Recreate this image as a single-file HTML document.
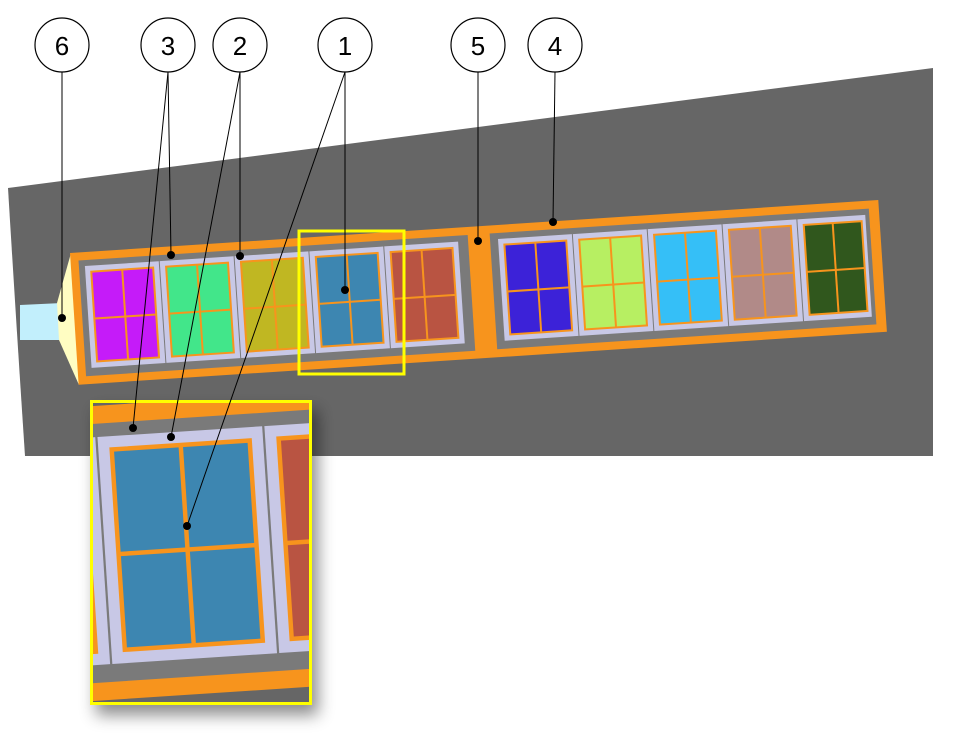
<!DOCTYPE html>
<html><head><meta charset="utf-8"><style>
html,body{margin:0;padding:0;background:#fff;}
svg{display:block;}
text{font-family:"Liberation Sans",sans-serif;}
</style></head><body>
<svg width="962" height="734" viewBox="0 0 962 734" xmlns="http://www.w3.org/2000/svg">
<defs>
<filter id="sh" x="-30%" y="-30%" width="160%" height="160%"><feDropShadow dx="6" dy="10" stdDeviation="8" flood-color="#000" flood-opacity="0.45"/></filter>
<g id="strip">
<polygon points="20,305 62,303 62,340 20,340" fill="#c2effc"/>
<polygon points="57,303 71,253 79,385 59,340" fill="#fffdc2"/>
<g transform="translate(70,253) rotate(-3.75)">
<rect x="0" y="0" width="810" height="132" fill="#f7941d"/>
<rect x="8" y="8" width="390" height="116" fill="#7a7a7a"/>
<rect x="420" y="8" width="380" height="116" fill="#7a7a7a"/>
<g stroke="#f7941d" stroke-width="2">
<g transform="translate(14,14)"><rect width="74" height="102" fill="#c8c8e6" stroke="none"/><rect x="6" y="6" width="62" height="90" fill="#c51bf9"/><line x1="37" y1="6" x2="37" y2="96"/><line x1="6" y1="53" x2="68" y2="53"/></g>
<g transform="translate(89,14)"><rect width="74" height="102" fill="#c8c8e6" stroke="none"/><rect x="6" y="6" width="62" height="90" fill="#42e68a"/><line x1="37" y1="6" x2="37" y2="96"/><line x1="6" y1="53" x2="68" y2="53"/></g>
<g transform="translate(164,14)"><rect width="74" height="102" fill="#c8c8e6" stroke="none"/><rect x="6" y="6" width="62" height="90" fill="#c0b722"/><line x1="37" y1="6" x2="37" y2="96"/><line x1="6" y1="53" x2="68" y2="53"/></g>
<g transform="translate(239,14)"><rect width="74" height="102" fill="#c8c8e6" stroke="none"/><rect x="6" y="6" width="62" height="90" fill="#3d86b1"/><line x1="37" y1="6" x2="37" y2="96"/><line x1="6" y1="53" x2="68" y2="53"/></g>
<g transform="translate(314,14)"><rect width="74" height="102" fill="#c8c8e6" stroke="none"/><rect x="6" y="6" width="62" height="90" fill="#b95442"/><line x1="37" y1="6" x2="37" y2="96"/><line x1="6" y1="53" x2="68" y2="53"/></g>
<g transform="translate(428,14)"><rect width="74" height="102" fill="#c8c8e6" stroke="none"/><rect x="6" y="6" width="62" height="90" fill="#3c22d8"/><line x1="37" y1="6" x2="37" y2="96"/><line x1="6" y1="53" x2="68" y2="53"/></g>
<g transform="translate(503,14)"><rect width="74" height="102" fill="#c8c8e6" stroke="none"/><rect x="6" y="6" width="62" height="90" fill="#b7ef62"/><line x1="37" y1="6" x2="37" y2="96"/><line x1="6" y1="53" x2="68" y2="53"/></g>
<g transform="translate(578,14)"><rect width="74" height="102" fill="#c8c8e6" stroke="none"/><rect x="6" y="6" width="62" height="90" fill="#35bff7"/><line x1="37" y1="6" x2="37" y2="96"/><line x1="6" y1="53" x2="68" y2="53"/></g>
<g transform="translate(653,14)"><rect width="74" height="102" fill="#c8c8e6" stroke="none"/><rect x="6" y="6" width="62" height="90" fill="#b18a88"/><line x1="37" y1="6" x2="37" y2="96"/><line x1="6" y1="53" x2="68" y2="53"/></g>
<g transform="translate(728,14)"><rect width="68" height="102" fill="#c8c8e6" stroke="none"/><rect x="6" y="6" width="58" height="90" fill="#30571d"/><line x1="35" y1="6" x2="35" y2="96"/><line x1="6" y1="53" x2="64" y2="53"/></g>
</g>
</g>
</g>
<clipPath id="ic"><rect x="90" y="400" width="222" height="305"/></clipPath>
</defs>

<path d="M8,188 L933,68 L933,456 L25,456 Q16,320 8,188 Z" fill="#666"/>
<use href="#strip"/>
<rect x="299" y="231" width="105" height="143" fill="none" stroke="#ffff00" stroke-width="3"/>

<g filter="url(#sh)">
<rect x="90" y="400" width="222" height="305" fill="#666"/>
</g>
<g clip-path="url(#ic)">
<rect x="90" y="400" width="222" height="305" fill="#666"/>
<g transform="translate(188,550) scale(2.23) translate(-350,-302)"><use href="#strip"/></g>
</g>
<rect x="91.5" y="401.5" width="219" height="302" fill="none" stroke="#ffff00" stroke-width="3"/>

<g stroke="#000" stroke-width="1" fill="none">
<line x1="62" y1="72" x2="62" y2="318"/>
<line x1="168" y1="72" x2="171" y2="255"/>
<line x1="168" y1="72" x2="133" y2="428"/>
<line x1="240" y1="72" x2="240" y2="256"/>
<line x1="240" y1="72" x2="171" y2="437"/>
<line x1="345" y1="72" x2="345" y2="290"/>
<line x1="345" y1="72" x2="187" y2="526"/>
<line x1="478" y1="72" x2="478" y2="241"/>
<line x1="555" y1="72" x2="553" y2="222"/>
</g>
<g fill="#000">
<circle cx="62" cy="318" r="4"/><circle cx="171" cy="255" r="4"/><circle cx="133" cy="428" r="4"/>
<circle cx="240" cy="256" r="4"/><circle cx="171" cy="437" r="4"/><circle cx="345" cy="290" r="4"/>
<circle cx="187" cy="526" r="4"/><circle cx="478" cy="241" r="4"/><circle cx="553" cy="222" r="4"/>
</g>
<g fill="#fff" stroke="#000" stroke-width="1.2">
<ellipse cx="62" cy="45" rx="27" ry="27"/><ellipse cx="168" cy="45" rx="27" ry="27"/>
<ellipse cx="240" cy="45" rx="27" ry="27"/><ellipse cx="345" cy="45" rx="27" ry="27"/>
<ellipse cx="478" cy="45" rx="27" ry="27"/><ellipse cx="555" cy="45" rx="27" ry="27"/>
</g>
<g font-size="26" text-anchor="middle" fill="#000">
<text x="62" y="55">6</text><text x="168" y="55">3</text><text x="240" y="55">2</text>
<text x="345" y="55">1</text><text x="478" y="55">5</text><text x="555" y="55">4</text>
</g>
</svg>
</body></html>
